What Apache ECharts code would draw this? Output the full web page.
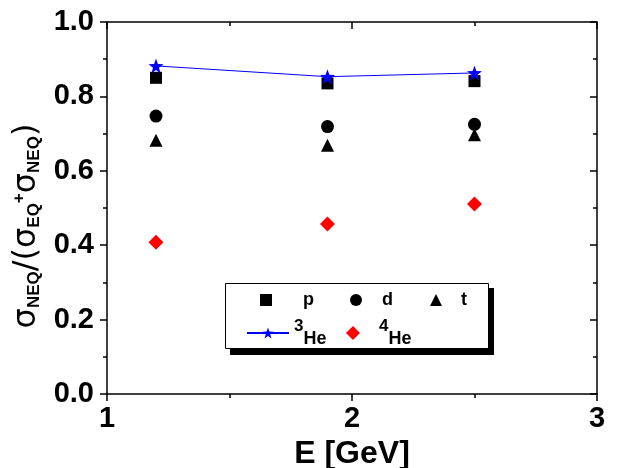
<!DOCTYPE html>
<html><head><meta charset="utf-8">
<script src="https://cdn.jsdelivr.net/npm/echarts@6/dist/echarts.min.js"></script>
<style>html,body{margin:0;padding:0;background:#fff}#c{width:636px;height:468px}</style>
</head><body><div id="c"></div>
<script>
const energies = [1.2, 1.9, 2.5];
const pVals = [0.850, 0.835, 0.841];
const dVals = [0.747, 0.719, 0.725];
const tVals = [0.682, 0.669, 0.697];
const he3Vals = [0.882, 0.853, 0.863];
const he4Vals = [0.408, 0.457, 0.511];
const xTicks = [1, 2, 3];
const yTicks = [0.0, 0.2, 0.4, 0.6, 0.8, 1.0];

const FONT = '"Liberation Sans", Arial, sans-serif';
const pairs = v => energies.map((e, i) => [e, v[i]]);

const chart = echarts.init(document.getElementById('c'), null, {renderer: 'canvas'});
const axisCommon = {
  axisLine: {show: true, onZero: false, lineStyle: {color: '#000', width: 1.5}},
  splitLine: {show: false},
  minorSplitLine: {show: false}
};
const legendBase = {
  orient: 'horizontal', padding: 0, itemGap: 0, selectedMode: false, z: 10,
  textStyle: {fontFamily: FONT, fontWeight: 'bold', fontSize: 18, color: '#000'}
};
function leg(name, left, top, w, h, padLeft, rich) {
  const o = Object.assign({}, legendBase, {
    data: [name], left: left, top: top, itemWidth: w, itemHeight: h,
    textStyle: Object.assign({}, legendBase.textStyle, {padding: [0, 0, 0, padLeft]})
  });
  if (rich) {
    o.formatter = rich.fmt;
    o.textStyle.rich = rich.rich;
  }
  return o;
}
const heRich = {
  sup: {fontFamily: FONT, fontWeight: 'bold', fontSize: 17, color: '#000', verticalAlign: 'top', lineHeight: 30},
  b: {fontFamily: FONT, fontWeight: 'bold', fontSize: 18, color: '#000', verticalAlign: 'bottom', lineHeight: 20, padding: [12, 0, 0, 0]}
};
const tickStyle = {color: '#000', width: 1.5};

const option = {
  animation: false,
  backgroundColor: '#fff',
  grid: {left: 107, right: 39, top: 22, bottom: 74, containLabel: false, outerBoundsMode: 'none'},
  xAxis: [
    Object.assign({}, axisCommon, {
      type: 'value', min: 1, max: 3, interval: 1, position: 'bottom',
      axisTick: {show: true, inside: false, length: 7, lineStyle: tickStyle},
      minorTick: {show: true, splitNumber: 2, length: 4, lineStyle: tickStyle},
      axisLabel: {show: true, margin: 10, fontFamily: FONT, fontWeight: 'bold', fontSize: 29, color: '#000',
        formatter: v => xTicks.includes(v) ? String(v) : ''},
      name: 'E [GeV]', nameLocation: 'middle', nameGap: 41,
      nameTextStyle: {fontFamily: FONT, fontWeight: 'bold', fontSize: 32, color: '#000'}
    }),
    Object.assign({}, axisCommon, {
      type: 'value', min: 1, max: 3, interval: 1, position: 'top',
      axisTick: {show: true, inside: true, length: 7, lineStyle: tickStyle},
      minorTick: {show: true, splitNumber: 2, length: 4, lineStyle: tickStyle},
      axisLabel: {show: false}
    })
  ],
  yAxis: [
    Object.assign({}, axisCommon, {
      type: 'value', min: 0, max: 1, interval: 0.2, position: 'left',
      axisTick: {show: true, inside: false, length: 7, lineStyle: tickStyle},
      minorTick: {show: true, splitNumber: 2, length: 4, lineStyle: tickStyle},
      axisLabel: {show: true, margin: 13, fontFamily: FONT, fontWeight: 'bold', fontSize: 29, color: '#000',
        formatter: v => yTicks.some(t => Math.abs(t - v) < 1e-9) ? v.toFixed(1) : ''},
      name: '{s|σ}{sub|NEQ}{s|/(σ}{sub|EQ}{sup|+}{s|σ}{sub|NEQ}{s|)}',
      nameLocation: 'middle', nameRotate: 90, nameGap: 64,
      nameTextStyle: {
        padding: [0, 36, 0, 0],
        rich: {
          s: {fontFamily: '"DejaVu Sans", sans-serif', fontSize: 32, color: '#000', lineHeight: 38, verticalAlign: 'bottom'},
          sub: {fontFamily: FONT, fontWeight: 'bold', fontSize: 17, color: '#000', lineHeight: 17, verticalAlign: 'bottom'},
          sup: {fontFamily: FONT, fontWeight: 'bold', fontSize: 17, color: '#000', lineHeight: 38, verticalAlign: 'top', padding: [6, 0, 0, 0]}
        }
      }
    }),
    Object.assign({}, axisCommon, {
      type: 'value', min: 0, max: 1, interval: 0.2, position: 'right',
      axisTick: {show: true, inside: true, length: 7, lineStyle: tickStyle},
      minorTick: {show: true, splitNumber: 2, length: 4, lineStyle: tickStyle},
      axisLabel: {show: false}
    })
  ],
  legend: [
    leg('p', 260, 291, 12, 12, 26),
    leg('d', 350, 291, 12, 12, 15),
    leg('t', 430, 291, 12, 12, 14),
    leg('3He', 246, 318, 42, 14, 0, {fmt: () => '{sup|3}{b|He}', rich: heRich}),
    leg('4He', 346, 318, 14, 14, 14, {fmt: () => '{sup|4}{b|He}', rich: heRich})
  ],
  graphic: [
    {type: 'rect', z: 1, shape: {x: 230, y: 288, width: 264, height: 67}, style: {fill: '#000'}},
    {type: 'rect', z: 2, shape: {x: 225.5, y: 283.5, width: 263, height: 65}, style: {fill: '#fff', stroke: '#000', lineWidth: 1}}
  ],
  series: [
    {name: '3He', type: 'line', data: pairs(he3Vals), symbol: 'path://M0,-10 L2.35,-3.24 L9.51,-3.09 L3.8,1.24 L5.88,8.09 L0,4 L-5.88,8.09 L-3.8,1.24 L-9.51,-3.09 L-2.35,-3.24 Z',
      symbolSize: 15, itemStyle: {color: '#0000ff', opacity: 1}, lineStyle: {color: '#0000ff', width: 1}, z: 5},
    {name: 'p', type: 'scatter', data: pairs(pVals), symbol: 'rect', symbolSize: 12, itemStyle: {color: '#000', opacity: 1}, z: 4},
    {name: 'd', type: 'scatter', data: pairs(dVals), symbol: 'circle', symbolSize: 13, itemStyle: {color: '#000', opacity: 1}, z: 4},
    {name: 't', type: 'scatter', data: pairs(tVals), symbol: 'triangle', symbolSize: 13, itemStyle: {color: '#000', opacity: 1}, z: 4},
    {name: '4He', type: 'scatter', data: pairs(he4Vals), symbol: 'diamond', symbolSize: [15, 15], itemStyle: {color: '#ff0000', opacity: 1}, z: 4}
  ]
};
chart.setOption(option);
</script></body></html>
